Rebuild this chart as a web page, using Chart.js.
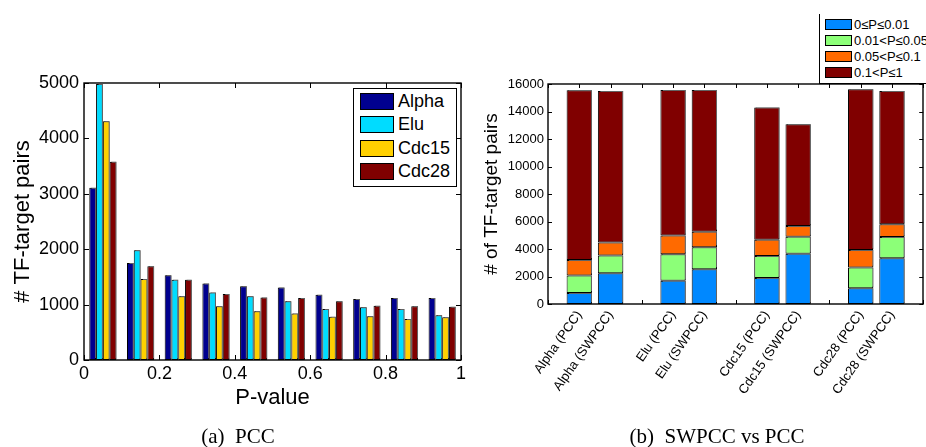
<!DOCTYPE html>
<html>
<head>
<meta charset="utf-8">
<script src="https://cdn.jsdelivr.net/npm/chart.js@4.4.0/dist/chart.umd.min.js"></script>
<style>
html, body { margin: 0; padding: 0; background: #fff; overflow: hidden; }
#wrap { position: relative; width: 926px; height: 447px; overflow: hidden; font-family: "Liberation Sans", Arial, sans-serif; color: #000; }
canvas { position: absolute; top: 0; }
#pccChart { left: 0; }
#swChart { left: 460px; }
.legend { position: absolute; background: #fff; border: 1px solid #000; box-sizing: border-box; }
.legend .row { display: flex; align-items: center; white-space: nowrap; }
.legend .sw { box-sizing: border-box; border: 1px solid #000; flex: none; }
#pccLegend { left: 353px; top: 88px; width: 104px; height: 99px; padding: 1px 0 0 6px; font-size: 18px; }
#pccLegend .row { height: 23.3px; }
#pccLegend .sw { width: 34px; height: 17px; margin-right: 4px; }
#swLegend { left: 819px; top: 14px; width: 140px; height: 70px; padding: 2px 0 0 5px; font-size: 13px; border-top: none; }
#swLegend .row { height: 16.2px; }
#swLegend .sw { width: 27px; height: 11px; margin-right: 2px; }
.caption { position: absolute; top: 426px; width: 300px; text-align: center; font-family: "Liberation Serif", "Times New Roman", serif; font-size: 21px; line-height: 21px; white-space: pre; }
</style>
</head>
<body>
<div id="wrap">
  <canvas id="pccChart" width="470" height="447"></canvas>
  <canvas id="swChart" width="480" height="447"></canvas>
  <div id="pccLegend" class="legend"></div>
  <div id="swLegend" class="legend"></div>
  <div class="caption" style="left:88px">(a)  PCC</div>
  <div class="caption" style="left:567px">(b)  SWPCC vs PCC</div>
</div>
<script>
// (a) histogram of p-values, bins of width 0.1
const binCenters = [0.05, 0.15, 0.25, 0.35, 0.45, 0.55, 0.65, 0.75, 0.85, 0.95];
const alphaCounts = [3110, 1750, 1530, 1380, 1330, 1310, 1180, 1100, 1120, 1120];
const eluCounts = [4980, 1980, 1450, 1220, 1150, 1060, 920, 950, 920, 810];
const cdc15Counts = [4310, 1460, 1150, 970, 880, 840, 780, 790, 740, 770];
const cdc28Counts = [3580, 1690, 1450, 1190, 1130, 1120, 1060, 980, 970, 960];
const datasetNames = ['Alpha', 'Elu', 'Cdc15', 'Cdc28'];
const pccColors = ['#00008f', '#00dcff', '#ffd000', '#800000'];

// (b) stacked counts per p-value range
const barLabels = ['Alpha (PCC)', 'Alpha (SWPCC)', 'Elu (PCC)', 'Elu (SWPCC)',
                   'Cdc15 (PCC)', 'Cdc15 (SWPCC)', 'Cdc28 (PCC)', 'Cdc28 (SWPCC)'];
const rangeNames = ['0\u2264P\u22640.01', '0.01<P\u22640.05', '0.05<P\u22640.1', '0.1<P\u22641'];
const p001 = [800, 2240, 1700, 2530, 1900, 3660, 1150, 3320];
const p005 = [1270, 1280, 1910, 1590, 1590, 1230, 1500, 1550];
const p01 = [1130, 960, 1370, 1130, 1180, 790, 1280, 930];
const p1 = [12350, 11020, 10580, 10310, 9630, 7390, 11690, 9700];
const rangeColors = ['#0088ff', '#8cff78', '#ff6a00', '#800000'];

const FONT = '"Liberation Sans", Arial, sans-serif';

// ticks pointing inwards on all four sides, and a box round the plot
const boxTicks = {
  id: 'boxTicks',
  beforeDatasetsDraw(chart, args, opts) {
    const {ctx, chartArea: a} = chart;
    const len = opts.len;
    ctx.save();
    ctx.strokeStyle = '#000';
    ctx.lineWidth = 1;
    ctx.beginPath();
    const xs = chart.scales[opts.xScale];
    xs.ticks.forEach((t, i) => {
      const px = Math.round(xs.getPixelForTick(i)) + 0.5;
      ctx.moveTo(px, a.top); ctx.lineTo(px, a.top + len);
      ctx.moveTo(px, a.bottom); ctx.lineTo(px, a.bottom - len);
    });
    const ys = chart.scales.y;
    ys.ticks.forEach((t, i) => {
      const py = Math.round(ys.getPixelForTick(i)) + 0.5;
      ctx.moveTo(a.left, py); ctx.lineTo(a.left + len, py);
      ctx.moveTo(a.right, py); ctx.lineTo(a.right - len, py);
    });
    ctx.stroke();
    ctx.restore();
  },
  afterDatasetsDraw(chart) {
    const {ctx, chartArea: a} = chart;
    ctx.save();
    ctx.shadowColor = 'rgba(0,0,0,0)';
    ctx.strokeStyle = '#000';
    ctx.lineWidth = 1.4;
    ctx.strokeRect(Math.round(a.left), Math.round(a.top), Math.round(a.width), Math.round(a.height));
    ctx.restore();
  }
};

// grey edge on the bars, like the matlab export
const barShade = {
  id: 'barShade',
  beforeDatasetsDraw(chart) {
    const ctx = chart.ctx;
    ctx.save();
    ctx.shadowColor = 'rgba(110,110,110,0.9)';
    ctx.shadowOffsetX = 1.5;
    ctx.shadowOffsetY = -1;
    ctx.shadowBlur = 0;
  },
  afterDatasetsDraw(chart) {
    chart.ctx.restore();
  }
};

function fixWidth(w) { return scale => { scale.width = w; }; }
function fixHeight(h) { return scale => { scale.height = h; }; }
const plainNum = v => String(Number(Number(v).toFixed(1)));

function htmlLegend(el, chart) {
  chart.data.datasets.forEach(ds => {
    const row = document.createElement('div');
    row.className = 'row';
    const sw = document.createElement('span');
    sw.className = 'sw';
    sw.style.background = ds.backgroundColor;
    row.appendChild(sw);
    row.appendChild(document.createTextNode(ds.label));
    el.appendChild(row);
  });
}

// ---- (a) PCC ----
const pccSeries = [alphaCounts, eluCounts, cdc15Counts, cdc28Counts];
const pccChart = new Chart(document.getElementById('pccChart'), {
  type: 'bar',
  data: {
    labels: binCenters,
    datasets: pccSeries.map((vals, i) => ({
      label: datasetNames[i],
      data: vals,
      backgroundColor: pccColors[i],
      borderColor: '#000',
      borderWidth: 1,
      borderSkipped: false,
      categoryPercentage: 0.72,
      barPercentage: 1.0
    }))
  },
  options: {
    responsive: false,
    animation: false,
    devicePixelRatio: 1,
    layout: { padding: { left: 0, top: 83, right: 9, bottom: 0 } },
    plugins: {
      legend: { display: false },
      tooltip: { enabled: false },
      boxTicks: { xScale: 'x2', len: 5 }
    },
    scales: {
      x: { type: 'category', display: false },
      x2: {
        type: 'linear', position: 'bottom', min: 0, max: 1, offset: false,
        grid: { display: false, drawTicks: false, offset: false },
        border: { display: false },
        ticks: { stepSize: 0.2, color: '#000', padding: 3, font: { family: FONT, size: 18 }, callback: plainNum },
        title: { display: true, text: 'P-value', color: '#000', font: { family: FONT, size: 22 }, padding: { top: 0, bottom: 36 } },
        afterFit: fixHeight(87)
      },
      y: {
        min: 0, max: 5000,
        grid: { display: false, drawTicks: false },
        border: { display: false },
        ticks: { stepSize: 1000, color: '#000', padding: 5, font: { family: FONT, size: 18 }, callback: plainNum },
        title: { display: true, text: '# TF-target pairs', color: '#000', font: { family: FONT, size: 22 }, padding: { top: 10, bottom: 0 } },
        afterFit: fixWidth(84)
      }
    }
  },
  plugins: [boxTicks, barShade]
});
htmlLegend(document.getElementById('pccLegend'), pccChart);

// ---- (b) SWPCC vs PCC ----
// pairs of bars with an empty slot between datasets, and one empty slot at each end
function withGaps(arr, blank) {
  const out = [blank];
  arr.forEach((v, i) => {
    out.push(v);
    if (i % 2 === 1) out.push(blank);
  });
  return out;
}
const swLabels = withGaps(barLabels, '');
const swSeries = [p001, p005, p01, p1];
const swChart = new Chart(document.getElementById('swChart'), {
  type: 'bar',
  data: {
    labels: swLabels,
    datasets: swSeries.map((vals, i) => ({
      label: rangeNames[i],
      data: withGaps(vals, null),
      backgroundColor: rangeColors[i],
      borderColor: '#000',
      borderWidth: 1,
      borderSkipped: false,
      categoryPercentage: 0.81,
      barPercentage: 1.0
    }))
  },
  options: {
    responsive: false,
    animation: false,
    devicePixelRatio: 1,
    layout: { padding: { left: 0, top: 84, right: 7, bottom: 0 } },
    plugins: {
      legend: { display: false },
      tooltip: { enabled: false },
      boxTicks: { xScale: 'x', len: 4 }
    },
    scales: {
      x: {
        type: 'category', offset: false, stacked: true,
        grid: { display: false, drawTicks: false, offset: false },
        border: { display: false },
        ticks: { autoSkip: false, minRotation: 55, maxRotation: 55, color: '#000', padding: 4, font: { family: FONT, size: 13 } },
        afterFit: fixHeight(143)
      },
      y: {
        stacked: true, min: 0, max: 16000,
        grid: { display: false, drawTicks: false },
        border: { display: false },
        ticks: { stepSize: 2000, color: '#000', padding: 4, font: { family: FONT, size: 13 }, callback: plainNum },
        title: { display: true, text: '# of TF-target pairs', color: '#000', font: { family: FONT, size: 19 }, padding: { top: 20, bottom: 0 } },
        afterFit: fixWidth(88)
      }
    }
  },
  plugins: [boxTicks, barShade]
});
htmlLegend(document.getElementById('swLegend'), swChart);
</script>
</body>
</html>
